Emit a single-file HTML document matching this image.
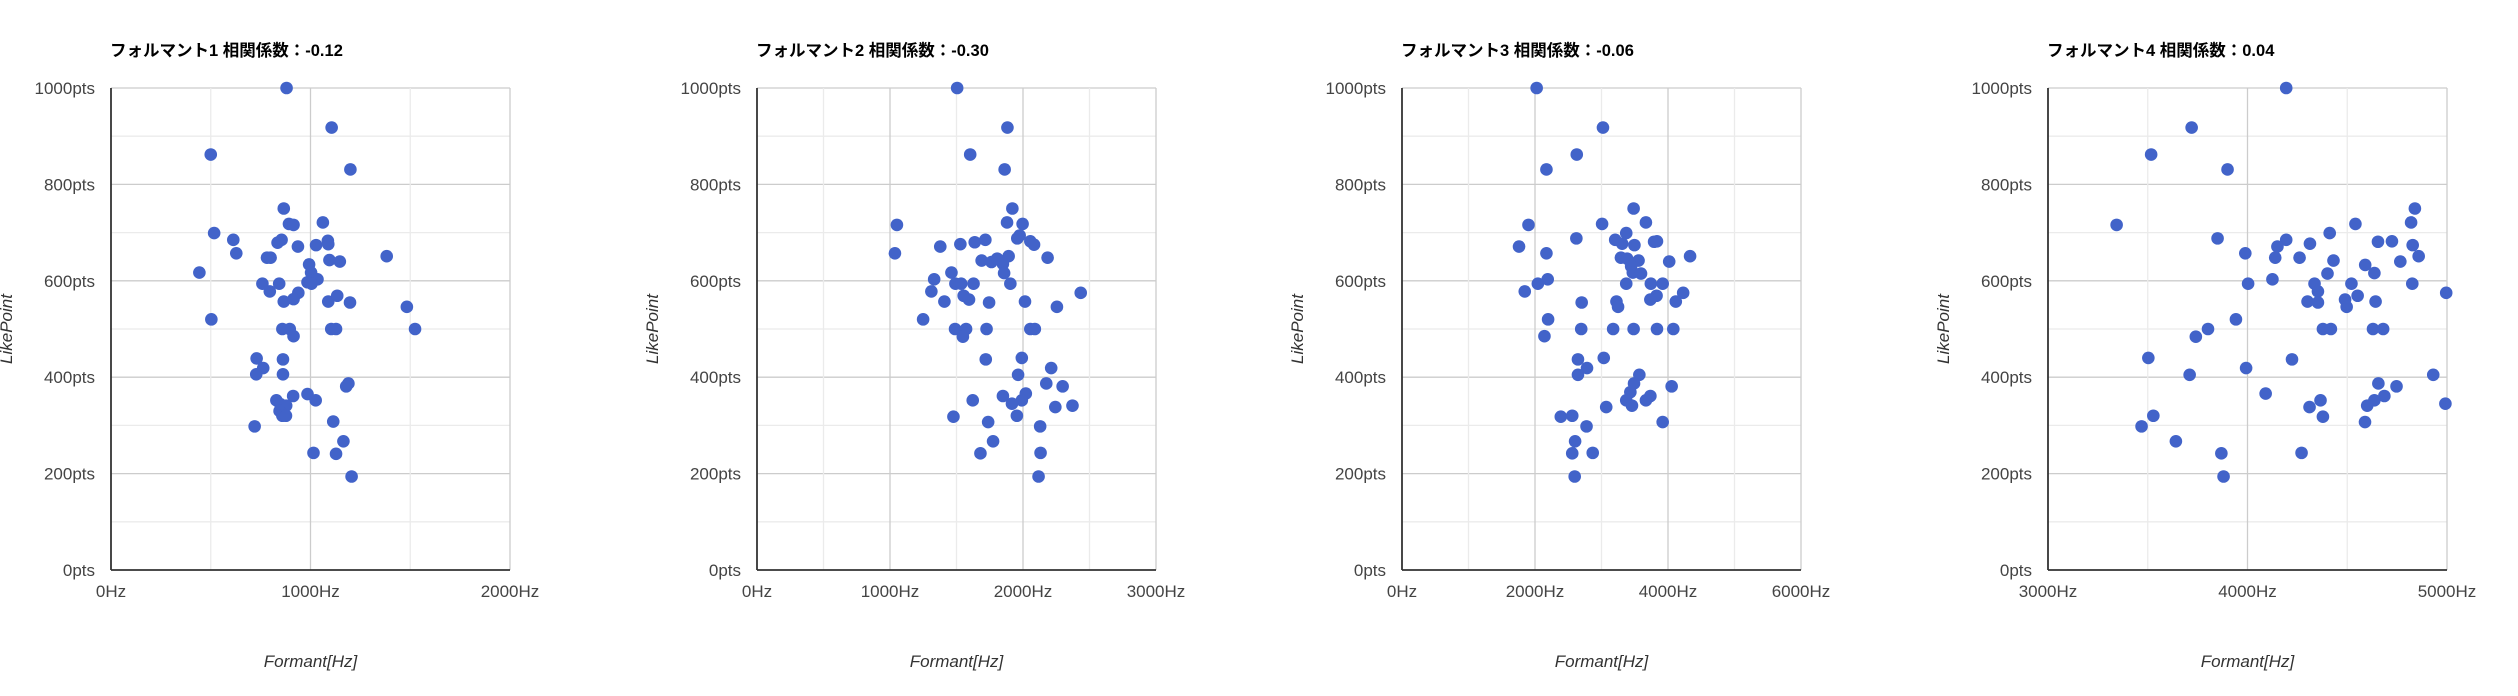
<!DOCTYPE html>
<html><head><meta charset="utf-8">
<style>
html,body{margin:0;padding:0;background:#fff;}
svg{display:block;}
text{font-family:"Liberation Sans","Noto Sans CJK JP",sans-serif;}
</style></head>
<body>
<svg id="chart" width="2518" height="696" viewBox="0 0 2518 696" xmlns="http://www.w3.org/2000/svg"></svg>
<script>
const titles = ["フォルマント1 相関係数：-0.12","フォルマント2 相関係数：-0.30","フォルマント3 相関係数：-0.06","フォルマント4 相関係数：0.04"];
const xMins = [0,0,0,3000];
const xMaxs = [2000,3000,6000,5000];
const xMajorStep = [1000,1000,2000,1000];
const yTicks = [0,200,400,600,800,1000];

const f1x = [880,1106,500,1200,866,1062,892,915,517,613,1087,855,835,937,1028,1089,628,782,800,1382,993,1095,1147,443,1003,759,843,985,1012,1035,1005,796,939,866,915,1089,1134,1198,1483,503,859,896,1104,1128,1524,915,730,862,763,728,862,1190,1179,913,985,1026,829,849,878,845,859,877,720,1114,1165,1015,1128,1206];
const f1y = [1000,918,862,831,750,721,718,716,699,685,683,685,679,671,674,676,657,648,648,651,634,643,640,617,617,594,594,597,600,603,594,578,575,557,562,557,569,555,546,520,500,500,500,500,500,485,439,437,419,406,406,387,381,361,365,352,352,344,341,330,320,320,298,308,267,243,241,194];

const f2x = [1505,1883,1603,1862,1920,1052,1880,1997,1037,1378,1529,1637,1717,1975,1957,2055,2083,2185,1689,1763,1806,1892,1849,1858,1462,1332,1492,1535,1628,1905,1311,1554,1594,1409,1745,2015,2434,2255,1249,1489,1572,1726,2055,2089,1548,1720,1991,2212,1963,2175,2298,1849,2021,1991,1622,1917,2243,2372,1477,1954,1738,2129,1775,1680,2132,2117];
const f2y = [1000,918,862,831,750,716,721,718,657,671,676,680,685,694,688,682,675,648,642,639,646,651,635,616,617,603,594,594,594,594,578,569,561,557,555,557,575,546,520,500,500,500,500,500,484,437,440,419,405,387,381,361,366,352,352,345,338,341,318,320,307,298,267,242,243,194];

const f3x = [2025,3022,2628,2172,3483,1902,3009,3668,2622,3206,3372,3311,3495,3791,3834,1760,2172,3292,3385,3557,4018,4332,3446,3471,3594,2191,2043,3372,3742,3920,1846,4228,3828,3735,4117,2702,3225,3249,2197,2142,2695,3175,3483,3834,4080,2646,3034,2782,2646,3569,3489,4055,3434,3735,3668,3372,3458,3071,2388,2560,3920,2775,2603,2560,2868,2597];
const f3y = [1000,918,862,831,750,716,718,721,688,685,699,677,674,681,682,671,657,648,646,642,640,651,630,617,615,603,594,594,594,594,578,575,569,561,557,555,557,546,520,485,500,500,500,500,500,437,440,419,405,405,387,381,369,361,352,352,341,338,318,320,307,298,267,242,243,194];

const f4x = [4194,3720,3517,3900,4839,3344,4541,4820,3850,4194,4412,4150,4313,4654,4724,4828,3989,4139,4261,4858,4431,4766,4590,4401,4636,4125,4003,4336,4521,4826,4996,4353,4552,4301,4353,4489,4497,4642,3942,3802,3741,4378,4418,4629,4680,3503,4223,3993,3710,4931,4656,4747,4091,4686,4366,4636,4600,4311,4992,3528,4378,3469,4589,3641,3869,4271,3880];
const f4y = [1000,918,862,831,750,716,718,721,688,685,699,671,677,681,682,674,657,648,648,651,642,640,633,615,616,603,594,594,594,594,575,578,569,557,555,561,546,557,520,500,484,500,500,500,500,440,437,419,405,405,387,381,366,361,352,352,341,338,345,320,318,298,307,267,242,243,194];

const seriesX = [f1x,f2x,f3x,f4x];
const seriesY = [f1y,f2y,f3y,f4y];

const NS = "http://www.w3.org/2000/svg";
const svg = document.getElementById('chart');
const lefts = [111,757,1402,2048];
const PW = 399, TOP = 88, BOT = 570;
function mk(tag, attrs, parent){const e=document.createElementNS(NS,tag);for(const k in attrs)e.setAttribute(k,attrs[k]);parent.appendChild(e);return e;}

for (let c=0;c<4;c++){
  const L = lefts[c], R = L+PW;
  const xs = v => L + (v - xMins[c])/(xMaxs[c]-xMins[c])*PW;
  const ys = v => BOT - v/1000*(BOT-TOP);
  const g = mk('g',{},svg);
  
  
  // y grid (every 100)
  for (let v=100; v<=1000; v+=100){
    const ln = mk('line',{x1:L,x2:R,y1:ys(v),y2:ys(v),stroke:(v%200===0)?'#cccccc':'#ebebeb','stroke-width':1.3},g);
    
    
  }
  // x grid (half major step)
  const half = xMajorStep[c]/2;
  for (let v=xMins[c]+half; v<=xMaxs[c]; v+=half){
    const major = ((v-xMins[c]) % xMajorStep[c])===0;
    const ln = mk('line',{x1:xs(v),x2:xs(v),y1:TOP,y2:BOT,stroke:major?'#cccccc':'#ebebeb','stroke-width':1.3},g);
    
    
  }
  // axes
  const ax = mk('line',{x1:L,x2:R,y1:BOT,y2:BOT,stroke:'#333','stroke-width':1.8},g);
  
  
  const ay = mk('line',{x1:L,x2:L,y1:TOP,y2:BOT,stroke:'#333','stroke-width':1.8},g);
  
  
  // y tick labels
  for (const v of yTicks){
    const t = mk('text',{x:L-16,y:ys(v)+6,'text-anchor':'end','font-size':17,fill:'#444'},g);
    t.textContent = v+'pts';
    
    
  }
  // x tick labels
  for (let v=xMins[c]; v<=xMaxs[c]; v+=xMajorStep[c]){
    const t = mk('text',{x:xs(v),y:597,'text-anchor':'middle','font-size':17,fill:'#444'},g);
    t.textContent = v+'Hz';
    
    
  }
  // title
  const tt = mk('text',{x:L-1,y:56,'font-size':16.5,'font-weight':'bold',fill:'#000'},g);
  tt.textContent = titles[c];
  
  
  // x axis title
  const xt = mk('text',{x:L+PW/2,y:667,'text-anchor':'middle','font-size':17,'font-style':'italic',fill:'#333'},g);
  xt.textContent = 'Formant[Hz]';
  
  
  // y axis title
  const yx = L-99, yy = (TOP+BOT)/2;
  const yt = mk('text',{x:yx,y:yy,'text-anchor':'middle','font-size':17,'font-style':'italic',fill:'#333',transform:'rotate(-90 '+yx+' '+yy+')'},g);
  yt.textContent = 'LikePoint';
  
  
  // points
  const X = seriesX[c], Y = seriesY[c];
  for (let i=0;i<X.length;i++){
    const p = mk('circle',{cx:xs(X[i]),cy:ys(Y[i]),r:6.3,fill:'#4263c9'},g);
    
    
  }
}
</script>
</body></html>
